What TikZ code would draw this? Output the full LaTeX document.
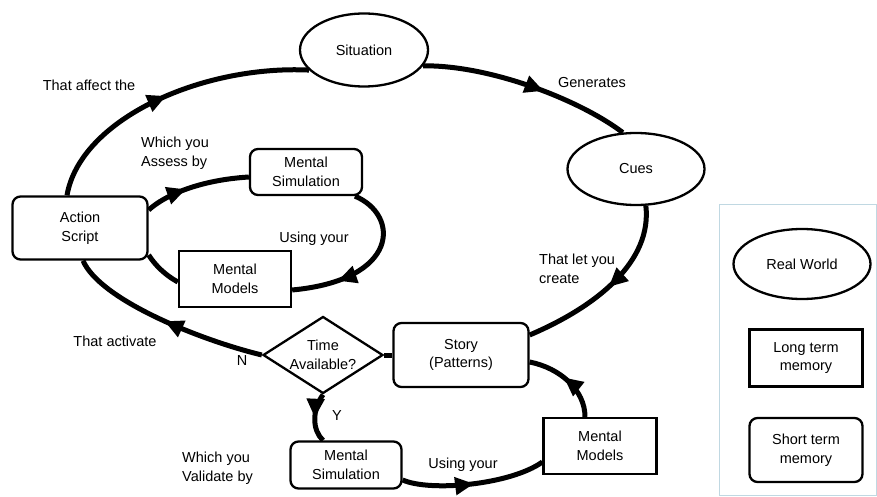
\documentclass[tikz,border=0pt]{standalone}
\usepackage{fontspec}
\setmainfont{Liberation Sans}
\usetikzlibrary{shapes.geometric,arrows.meta,decorations.markings}
\begin{document}
\begin{tikzpicture}[x=1pt,y=-1pt,
  every node/.style={font=\fontsize{14.5}{18.5}\selectfont,align=center,inner sep=0pt},
  rbox/.style={draw,line width=2.3pt,rounded corners=8pt},
  sbox/.style={draw,line width=2.3pt},
  ell/.style={draw,ellipse,line width=2.3pt},
  flow/.style={line width=5pt},
  mid/.style={postaction={decorate,decoration={markings,mark=at position #1 with {\arrow{Triangle[length=19pt,width=17pt]}}}}},
  lbl/.style={font=\fontsize{14.5}{19}\selectfont}
]
\useasboundingbox (0,0) rectangle (877,497);
\fill[white] (0,0) rectangle (877,497);

% nodes
\node[ell,minimum width=128pt,minimum height=73pt] (sit) at (364,50) {Situation};
\node[ell,minimum width=137pt,minimum height=72pt] (cues) at (636,169) {Cues};
\node[rbox,minimum width=135pt,minimum height=63pt] (act) at (80,228) {Action\\Script};
\node[rbox,minimum width=112pt,minimum height=46pt] (ms1) at (306,172) {Mental\\Simulation};
\node[sbox,minimum width=112pt,minimum height=56pt] (mm1) at (235,279) {Mental\\Models};
\node[draw,diamond,aspect=1.56,line width=2.3pt,minimum width=120pt,minimum height=77pt] (tav) at (323,355) {Time\\Available?};
\node[rbox,minimum width=135pt,minimum height=64pt] (story) at (461,355) {Story\\(Patterns)};
\node[rbox,minimum width=111pt,minimum height=47pt] (ms2) at (346,465) {Mental\\Simulation};
\node[sbox,minimum width=113pt,minimum height=56pt] (mm2) at (600,446) {Mental\\Models};

% legend
\node[draw=gray!60!cyan!40!white,line width=1pt,minimum width=157pt,minimum height=291pt] (legend) at (797.5,349.5) {};
\node[ell,minimum width=137pt,minimum height=70pt] (rw) at (802,264) {Real World};
\node[sbox,minimum width=113pt,minimum height=57pt] (ltm) at (806,358) {Long term\\memory};
\node[rbox,minimum width=113pt,minimum height=64pt] (stm) at (806,450) {Short term\\memory};

% connectors
\draw[flow,mid=0.5] ([xshift=-13pt]act.north) .. controls (80,120) and (200,65) .. (sit.200);
\draw[flow,mid=0.58] (sit.-15) .. controls (490,65) and (580,100) .. (cues.110);
\draw[flow,mid=0.5] (cues.-75) .. controls (652,260) and (600,305) .. ([yshift=20pt]story.east);
\draw[flow] (tav.east) -- (story.west);
\draw[flow,mid=0.5] (tav.west) .. controls (200,340) and (100,300) .. ([xshift=3pt]act.south);
\draw[flow,mid=0.5] (tav.south) .. controls (312,410) and (312,430) .. ([xshift=-23pt]ms2.north);
\draw[flow,mid=0.5] ([yshift=-15pt]ms2.east) .. controls (430,492) and (510,485) .. ([yshift=-16pt]mm2.west);
\draw[flow,mid=0.55] ([xshift=-15pt]mm2.north) .. controls (585,390) and (560,368) .. ([yshift=-7pt]story.east);
\draw[flow,mid=0.4] ([yshift=18pt]act.east) .. controls (165,195) and (200,180) .. ([yshift=-5pt]ms1.west);
\draw[flow,mid=0.72] ([xshift=49pt]ms1.south) .. controls (400,215) and (400,280) .. ([yshift=-11pt]mm1.east);
\draw[flow] ([yshift=-3pt]mm1.west) .. controls (165,275) and (155,265) .. ([yshift=-27pt]act.east);

% labels
\node[lbl] (l1) at (89,85) {That affect the};
\node[lbl] (l2) at (592,83) {Generates};
\node[lbl,align=left] (l3) at (175,153) {Which you\\Assess by};
\node[lbl] (l4) at (314,239) {Using your};
\node[lbl,align=left,anchor=west] (l5) at (539,269) {That let you\\create};
\node[lbl] (l6) at (115,341) {That activate};
\node[lbl] (l7) at (242,361) {N};
\node[lbl] (l8) at (337,416) {Y};
\node[lbl,align=left,anchor=west] (l9) at (182,468) {Which you\\Validate by};
\node[lbl] (l10) at (463,465) {Using your};
\end{tikzpicture}
\end{document}
